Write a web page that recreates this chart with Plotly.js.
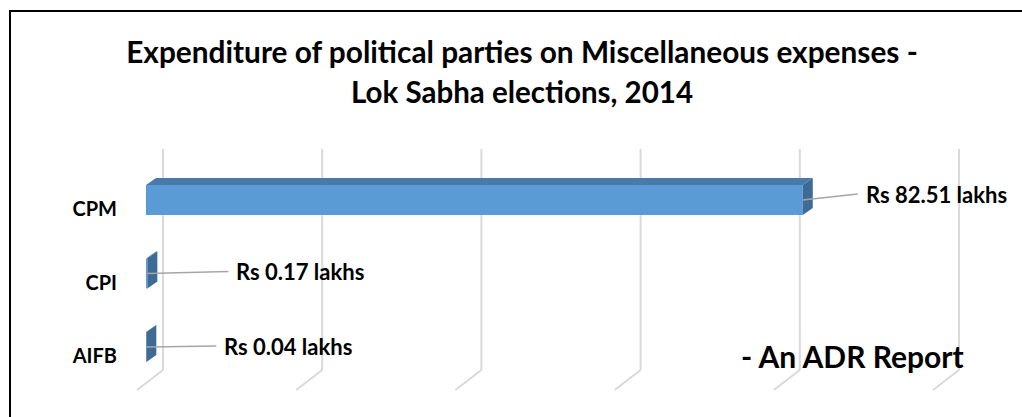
<!DOCTYPE html>
<html>
<head>
<meta charset="utf-8">
<script src="https://cdn.plot.ly/plotly-3.0.1.min.js"></script>
<style>
  html, body { margin: 0; padding: 0; background: #ffffff; }
  #wrap { position: relative; width: 1022px; height: 417px; overflow: hidden; }
  #chart { width: 1022px; height: 417px; }
  #frame { position: absolute; left: 9px; top: 10px; right: -10px; bottom: -10px;
           border-top: 2px solid #000; border-left: 2px solid #000; pointer-events: none; }
</style>
</head>
<body>
<div id="wrap">
  <div id="chart"></div>
  <div id="frame"></div>
</div>
<script>
// ---- data ----
const categories = ['AIFB', 'CPI', 'CPM'];
const values = [0.04, 0.17, 82.51];
const valueLabels = ['Rs 0.04 lakhs', 'Rs 0.17 lakhs', 'Rs 82.51 lakhs'];
const gridTicks = [0, 20, 40, 60, 80, 100];
const titleLine1 = 'Expenditure of political parties on Miscellaneous expenses -';
const titleLine2 = 'Lok Sabha elections, 2014';
const sourceNote = '- An ADR Report';

// ---- geometry (px -> axis units) ----
const L = 130, R = 12, T = 145, B = 22, W = 1022, H = 417;
const plotW = W - L - R, plotH = H - T - B;
const xPerPx = 1 / 7.96;          // axis units per pixel
const yPerPx = 1 / 73.5;
const xRange = [-(146 - L) * xPerPx, -(146 - L) * xPerPx + plotW * xPerPx];
const yRange = [-(H - B - 347) * yPerPx, -(H - B - 347) * yPerPx + plotH * yPerPx];

const barHalf = 0.205;
const depthX = 10 * xPerPx, depthY = 7 * yPerPx;
const pos = categories.map((c, i) => i);

const traces = [];
traces.push({
  type: 'bar', orientation: 'h', x: values, y: pos, width: barHalf * 2,
  marker: { color: '#5B9BD5', line: { width: 0 } }, hoverinfo: 'skip'
});
// 3D top and side faces built from the same values
values.forEach((v, i) => {
  const c = pos[i];
  traces.push({
    type: 'scatter', mode: 'lines', fill: 'toself', fillcolor: '#4A7AAB',
    line: { width: 0, color: '#4A7AAB' }, hoverinfo: 'skip',
    x: [0, v, v + depthX, depthX, 0],
    y: [c + barHalf, c + barHalf, c + barHalf + depthY, c + barHalf + depthY, c + barHalf]
  });
  traces.push({
    type: 'scatter', mode: 'lines', fill: 'toself', fillcolor: '#3D6B95',
    line: { width: 0, color: '#3D6B95' }, hoverinfo: 'skip',
    x: [v, v, v + depthX, v + depthX, v],
    y: [c - barHalf, c + barHalf, c + barHalf + depthY, c - barHalf + depthY, c - barHalf]
  });
});

// gridlines on the back wall + floor
const gridBackDX = 17 * xPerPx, floorDX = -26 * xPerPx;
const yTopGrid = 2 + (200 - 149) * yPerPx;
const yBotGrid = -(370 - 347) * yPerPx;
const yFloor = -(390 - 347) * yPerPx;
const shapes = [];
gridTicks.forEach(t => {
  shapes.push({ type: 'line', layer: 'below', xref: 'x', yref: 'y',
    x0: t + gridBackDX, x1: t + gridBackDX, y0: yBotGrid, y1: yTopGrid,
    line: { color: '#D9D9D9', width: 2 } });
  shapes.push({ type: 'line', layer: 'below', xref: 'x', yref: 'y',
    x0: t + gridBackDX, x1: t + gridBackDX + floorDX, y0: yBotGrid, y1: yFloor,
    line: { color: '#D9D9D9', width: 2 } });
});

const labelOffsets = [[70, -1], [81, -2], [55, -6]];
const annotations = values.map((v, i) => ({
  x: v, y: pos[i], xref: 'x', yref: 'y', text: valueLabels[i],
  showarrow: true, arrowhead: 0, arrowwidth: 1.5, arrowcolor: '#A6A6A6',
  ax: labelOffsets[i][0], ay: labelOffsets[i][1], xanchor: 'left', yanchor: 'middle',
  borderpad: 7,
  font: { family: 'Lato, sans-serif', size: 22, weight: 700, color: '#000' }
}));
annotations.push({
  xref: 'paper', yref: 'paper', x: (739 - L) / plotW, y: (H - B - 356) / plotH,
  xanchor: 'left', yanchor: 'middle', showarrow: false, text: sourceNote,
  font: { family: 'Lato, sans-serif', size: 30, weight: 700, color: '#000' }
});
annotations.push({
  xref: 'paper', yref: 'paper', x: (522 - L) / plotW, y: (H - B - 91) / plotH,
  xanchor: 'center', yanchor: 'middle', showarrow: false, text: titleLine2,
  font: { family: 'Lato, sans-serif', size: 29.5, weight: 700, color: '#000' }
});

const layout = {
  width: W, height: H,
  margin: { l: L, r: R, t: T, b: B, pad: 0 },
  paper_bgcolor: '#ffffff', plot_bgcolor: '#ffffff',
  showlegend: false,
  title: { text: titleLine1, xref: 'container', yref: 'container',
    x: 522 / W, y: 1 - 53 / H, xanchor: 'center', yanchor: 'middle',
    font: { family: 'Lato, sans-serif', size: 29.8, weight: 700, color: '#000' } },
  xaxis: { range: xRange, showgrid: false, zeroline: false, showticklabels: false,
    showline: false, ticks: '', fixedrange: true },
  yaxis: { range: yRange, tickvals: pos, ticktext: categories, showgrid: false,
    zeroline: false, showline: false, ticks: '', ticklabelshift: 9, ticklabelstandoff: 12,
    tickfont: { family: 'Lato, sans-serif', size: 20, weight: 700, color: '#000' },
    fixedrange: true },
  shapes: shapes,
  annotations: annotations
};

Plotly.newPlot('chart', traces, layout, { displayModeBar: false, staticPlot: true });
</script>
</body>
</html>
